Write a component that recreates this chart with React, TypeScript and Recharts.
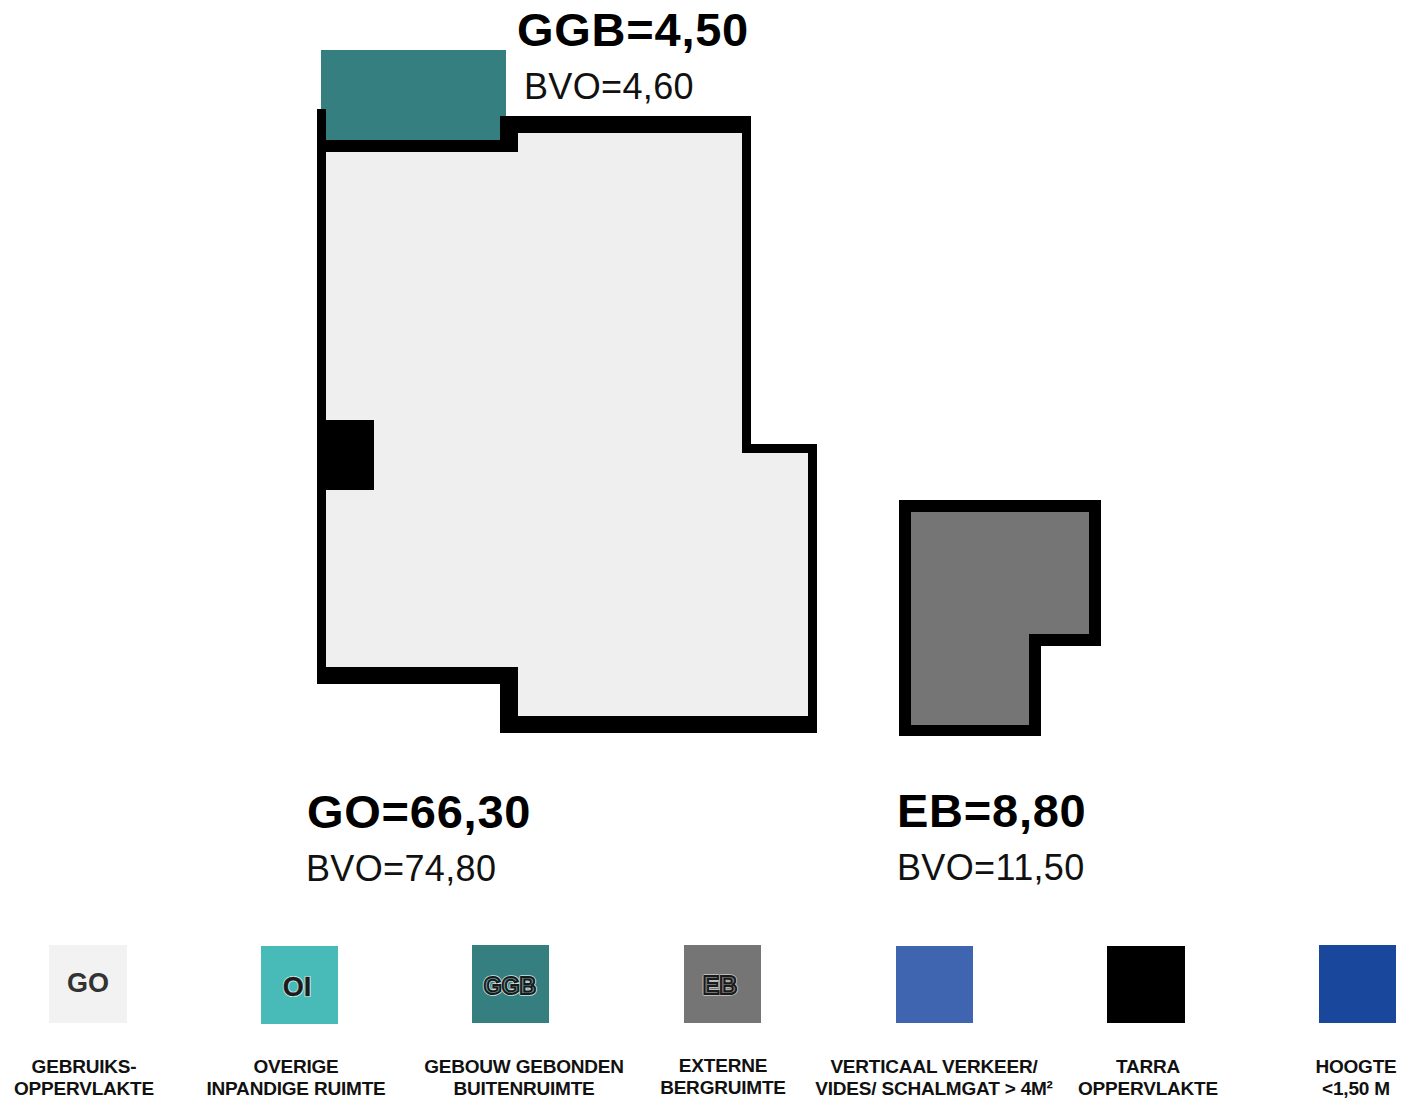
import { ScatterChart, Scatter, XAxis, YAxis, ReferenceArea } from "recharts";

const WIDTH = 1402;
const HEIGHT = 1100;

// plan is measured in picture units, so the axes run 1:1 with the image
// rooms and walls: [x1, x2, y1, y2]
const terrace = [
  [321, 506, 50, 116],
  [326, 500, 116, 140],
];
const usable = [
  [326, 500, 152, 667],
  [500, 742, 133, 716],
  [742, 808, 453, 716],
];
const walls = [
  [317, 326, 109, 684],
  [326, 518, 140, 152],
  [500, 751, 116, 133],
  [500, 518, 133, 152],
  [742, 751, 133, 453],
  [751, 817, 444, 453],
  [808, 817, 453, 733],
  [500, 808, 716, 733],
  [326, 518, 667, 684],
  [500, 518, 684, 716],
  [326, 374, 420, 490],
];
const storage = [
  [911, 1089, 512, 634],
  [911, 1029, 634, 725],
];
const storageWalls = [
  [899, 1101, 500, 512],
  [899, 911, 512, 736],
  [1089, 1101, 512, 646],
  [1029, 1101, 634, 646],
  [1029, 1041, 646, 736],
  [911, 1029, 725, 736],
];

// legend
const swatches = [
  [49, 127, 945, 1023, "#f2f2f2"],
  [261, 338, 946, 1024, "#48bab7"],
  [472, 549, 945, 1023, "#367f80"],
  [684, 761, 945, 1023, "#757575"],
  [896, 973, 946, 1023, "#3f64b0"],
  [1107, 1185, 946, 1023, "#000000"],
  [1319, 1396, 945, 1023, "#19479c"],
];

const areaTitles = [
  { x: 517, y: 46, text: "GGB=4,50" },
  { x: 307, y: 828, text: "GO=66,30" },
  { x: 897, y: 827, text: "EB=8,80" },
];
const areaValues = [
  { x: 524, y: 99, text: "BVO=4,60" },
  { x: 306, y: 881, text: "BVO=74,80" },
  { x: 897, y: 880, text: "BVO=11,50" },
];
const legendLabels = [
  { x: 84, y: 1073, text: "GEBRUIKS-" },
  { x: 84, y: 1095, text: "OPPERVLAKTE" },
  { x: 296, y: 1073, text: "OVERIGE" },
  { x: 296, y: 1095, text: "INPANDIGE RUIMTE" },
  { x: 524, y: 1073, text: "GEBOUW GEBONDEN" },
  { x: 524, y: 1095, text: "BUITENRUIMTE" },
  { x: 723, y: 1072, text: "EXTERNE" },
  { x: 723, y: 1094, text: "BERGRUIMTE" },
  { x: 934, y: 1073, text: "VERTICAAL VERKEER/" },
  { x: 934, y: 1095, text: "VIDES/ SCHALMGAT > 4M²" },
  { x: 1148, y: 1073, text: "TARRA" },
  { x: 1148, y: 1095, text: "OPPERVLAKTE" },
  { x: 1356, y: 1073, text: "HOOGTE" },
  { x: 1356, y: 1095, text: "<1,50 M" },
];
const plainCodes = [{ x: 88, y: 992, text: "GO" }];
const outlineCodes = [
  { x: 297, y: 996, text: "OI", fill: "#1c1c1c", size: 27, halo: "#d8f2f0", line: 0.4 },
  { x: 510, y: 994, text: "GGB", fill: "#5f9a9a", size: 23, halo: "#d0e4e4", line: 2 },
  { x: 720, y: 994, text: "EB", fill: "#757575", size: 25, halo: "#c8c8c8", line: 2 },
];

const FONT = "'Liberation Sans', Arial, sans-serif";

const textShape = (style: any) => (props: any) => (
  <text x={props.cx} y={props.cy} fontFamily={FONT} {...style}>
    {props.payload.text}
  </text>
);

const outlineShape = (props: any) => (
  <g fontFamily={FONT} fontWeight="bold" fontSize={props.payload.size} textAnchor="middle">
    <text x={props.cx} y={props.cy} fill="none" stroke={props.payload.halo} strokeWidth={props.payload.line + 1.6} strokeLinejoin="round">
      {props.payload.text}
    </text>
    <text x={props.cx} y={props.cy} fill={props.payload.fill} stroke="#1a1a1a" strokeWidth={props.payload.line}>
      {props.payload.text}
    </text>
  </g>
);

const rects = (list: any[], fill: string) =>
  list.map((r, i) => (
    <ReferenceArea key={fill + i} x1={r[0]} x2={r[1]} y1={r[2]} y2={r[3]} fill={fill} fillOpacity={1} stroke="none" />
  ));

export default function App() {
  return (
    <div style={{ position: "absolute", left: 0, top: 0, width: WIDTH, height: HEIGHT, background: "#fff" }}>
      <ScatterChart width={WIDTH} height={HEIGHT} margin={{ top: 0, right: 0, bottom: 0, left: 0 }}>
        <XAxis type="number" dataKey="x" domain={[0, WIDTH]} hide />
        <YAxis type="number" dataKey="y" domain={[0, HEIGHT]} reversed hide />

        {/* ROOMS */}
        {rects(terrace, "#367f80")}
        {rects(usable, "#efefef")}
        {rects(storage, "#757575")}
        {rects(walls, "#000000")}
        {rects(storageWalls, "#000000")}

        {/* LEGEND */}
        {swatches.map((s, i) => (
          <ReferenceArea key={i} x1={s[0] as number} x2={s[1] as number} y1={s[2] as number} y2={s[3] as number} fill={s[4] as string} fillOpacity={1} stroke="none" />
        ))}

        <Scatter data={areaTitles} isAnimationActive={false} shape={textShape({ fontSize: 47, fontWeight: "bold", fill: "#000", letterSpacing: 0.75 })} />
        <Scatter data={areaValues} isAnimationActive={false} shape={textShape({ fontSize: 36, fill: "#111", letterSpacing: 0.35 })} />
        <Scatter data={legendLabels} isAnimationActive={false} shape={textShape({ fontSize: 19, fontWeight: "bold", fill: "#111", textAnchor: "middle", letterSpacing: -0.2 })} />
        <Scatter data={plainCodes} isAnimationActive={false} shape={textShape({ fontSize: 27, fontWeight: "bold", fill: "#333", textAnchor: "middle" })} />
        <Scatter data={outlineCodes} isAnimationActive={false} shape={outlineShape} />
      </ScatterChart>
    </div>
  );
}
